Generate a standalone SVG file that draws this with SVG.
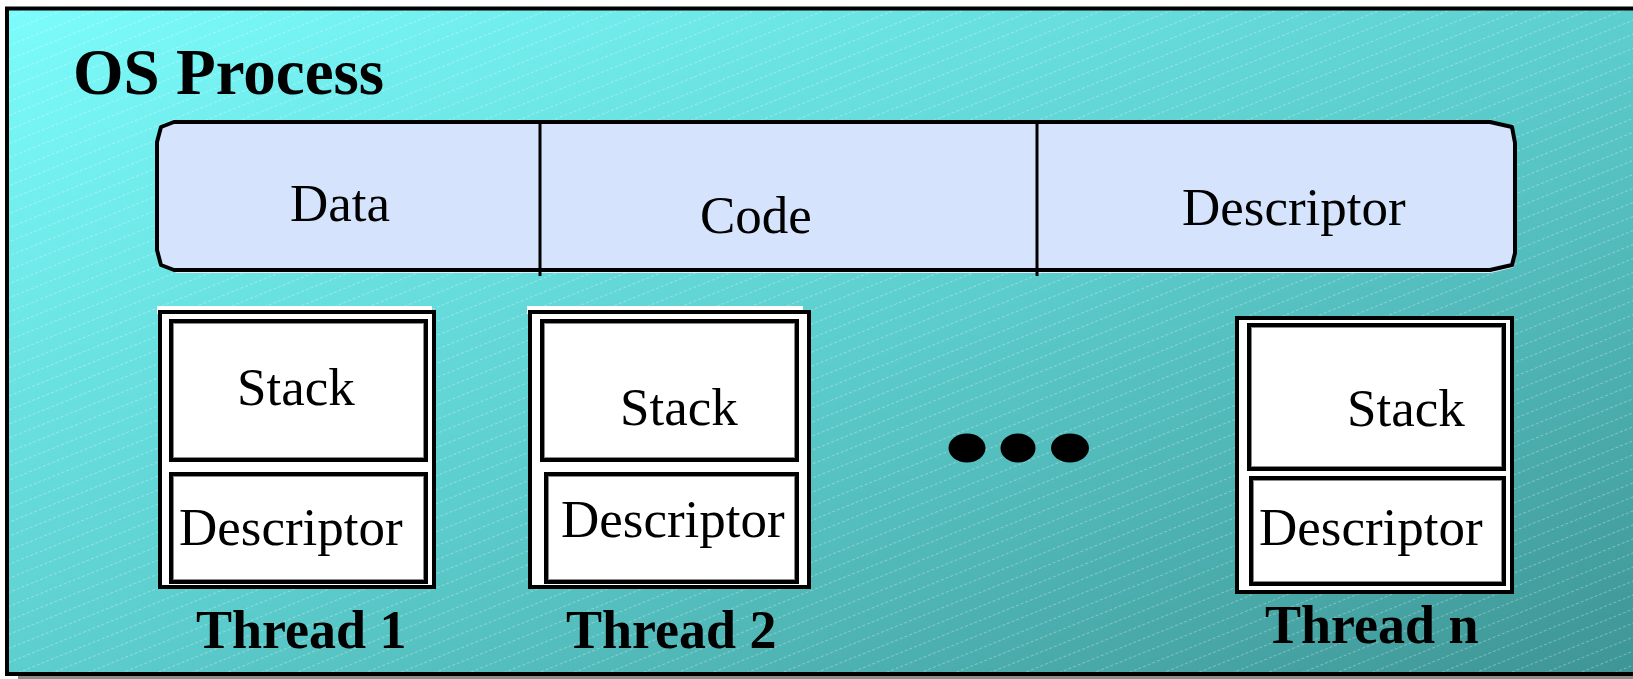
<svg xmlns="http://www.w3.org/2000/svg" width="1633" height="679" viewBox="0 0 1633 679">
  <defs>
    <linearGradient id="bg" x1="0" y1="0" x2="1" y2="1">
      <stop offset="0" stop-color="#7CFCFC"/>
      <stop offset="0.5" stop-color="#5DCECE"/>
      <stop offset="1" stop-color="#3E9494"/>
    </linearGradient>
    <pattern id="hatch" width="20" height="13" patternUnits="userSpaceOnUse" patternTransform="rotate(-22)">
      <line x1="0" y1="6.5" x2="20" y2="6.5" stroke="#FFFFFF" stroke-opacity="0.3" stroke-width="1" stroke-dasharray="3 2"/>
    </pattern>
    <style>
      .reg { font-family: "Liberation Serif", "Times New Roman", serif; font-size: 53px; fill: #000; }
      .bold { font-family: "Liberation Serif", "Times New Roman", serif; font-weight: bold; fill: #000; }
      .outer { fill: #FFFFFF; stroke: #000; stroke-width: 4; }
      .hl { fill: #FFFFFF; }
      .inner { fill: #FFFFFF; stroke: #000; stroke-width: 4; }
      .innerline { fill: none; stroke: #8A8A8A; stroke-width: 1; }
      .dot { fill: #000; }
    </style>
  </defs>

  <g id="background">
    <rect x="0" y="0" width="1633" height="679" fill="#FFFFFF"/>
    <rect x="18" y="676" width="1615" height="3" fill="#8C8C8C"/>
    <rect x="7" y="8.5" width="1640" height="665.5" fill="url(#bg)"/>
    <rect x="7" y="8.5" width="1640" height="665.5" fill="url(#hatch)"/>
    <rect x="7" y="8.5" width="1640" height="665.5" fill="none" stroke="#000" stroke-width="4"/>
  </g>

  <g id="os-process-title">
    <text class="bold" x="73" y="94" font-size="65">OS Process</text>
  </g>

  <g id="process-bar">
    <path d="M176,272 L1490,272 L1512,267 L1515,257" fill="none" stroke="#E4EEFB" stroke-width="2"/>
    <path d="M174,122 L1490,122 L1512,127 L1515,143 L1515,253 L1512,265 L1490,270 L174,270 L161,265 L157,250 L157,142 L161,127 Z" fill="#D5E4FC" stroke="#000" stroke-width="4" stroke-linejoin="round"/>
    <line x1="540" y1="121" x2="540" y2="276" stroke="#000" stroke-width="3"/>
    <line x1="1037" y1="121" x2="1037" y2="276" stroke="#000" stroke-width="3"/>
  </g>

  <g id="data">
    <text class="reg" x="290" y="221">Data</text>
  </g>
  <g id="code">
    <text class="reg" x="700" y="233">Code</text>
  </g>
  <g id="process-descriptor">
    <text class="reg" x="1182" y="225" font-size="55">Descriptor</text>
  </g>

  <g id="thread-1">
    <rect class="hl" x="157" y="306" width="275" height="8"/>
    <rect class="outer" x="160" y="312" width="274" height="275"/>
    <rect class="inner" x="171" y="321" width="255" height="139"/>
    <rect class="innerline" x="173.5" y="323.5" width="250" height="134"/>
    <rect class="inner" x="171" y="474" width="255" height="108"/>
    <rect class="innerline" x="173.5" y="476.5" width="250" height="103"/>
    <text class="reg" x="237" y="405">Stack</text>
    <text class="reg" x="179" y="545" font-size="55">Descriptor</text>
    <text class="bold" x="196" y="648" font-size="54">Thread 1</text>
  </g>

  <g id="thread-2">
    <rect class="hl" x="527" y="306" width="276" height="8"/>
    <rect class="outer" x="530" y="312" width="279" height="275"/>
    <rect class="inner" x="542" y="321" width="255" height="139"/>
    <rect class="innerline" x="544.5" y="323.5" width="250" height="134"/>
    <rect class="inner" x="546" y="474" width="251" height="108"/>
    <rect class="innerline" x="548.5" y="476.5" width="246" height="103"/>
    <text class="reg" x="620" y="425">Stack</text>
    <text class="reg" x="561" y="537" font-size="55">Descriptor</text>
    <text class="bold" x="566" y="648" font-size="54">Thread 2</text>
  </g>

  <g id="ellipsis">
    <ellipse class="dot" cx="967" cy="448" rx="18.5" ry="14.5"/>
    <ellipse class="dot" cx="1018" cy="448" rx="17.5" ry="14.5"/>
    <ellipse class="dot" cx="1070" cy="448" rx="19" ry="14.5"/>
  </g>

  <g id="thread-n">
    <rect class="outer" x="1237" y="318" width="275" height="274"/>
    <rect class="inner" x="1249" y="325" width="255" height="144"/>
    <rect class="innerline" x="1251.5" y="327.5" width="250" height="139"/>
    <rect class="inner" x="1251" y="478" width="253" height="106"/>
    <rect class="innerline" x="1253.5" y="480.5" width="248" height="101"/>
    <text class="reg" x="1347" y="426">Stack</text>
    <text class="reg" x="1259" y="545" font-size="55">Descriptor</text>
    <text class="bold" x="1265" y="643" font-size="54">Thread n</text>
  </g>

  <g id="connectors"/>
</svg>
